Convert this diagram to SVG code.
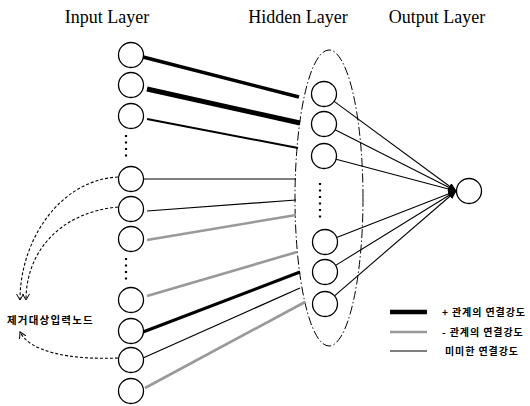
<svg xmlns="http://www.w3.org/2000/svg" width="530" height="406" viewBox="0 0 530 406">
<defs>
<marker id="ah" markerUnits="userSpaceOnUse" markerWidth="9" markerHeight="7" refX="8" refY="3.5" orient="auto">
<path d="M0,0 L9,3.5 L0,7 Z" fill="#000"/>
</marker>
<marker id="open" markerUnits="userSpaceOnUse" markerWidth="8" markerHeight="8" refX="6" refY="4" orient="auto">
<path d="M0,0.5 L6,4 L0,7.5" fill="none" stroke="#000" stroke-width="1"/>
</marker>
<style>
.node{fill:#fff;stroke:#000;stroke-width:1.3}
.title{font-family:"Liberation Serif","Times New Roman",serif;font-size:18px;fill:#000}
.kor{font-family:"Noto Sans CJK KR","Noto Sans",sans-serif;font-size:10px;font-weight:bold;fill:#000;letter-spacing:0.9px}
.lbl{font-size:10.5px;letter-spacing:1.2px}
.pos{stroke:#000;stroke-linecap:butt}
.neg{stroke:#999;stroke-width:2.6}
.weak{stroke:#000;stroke-width:1.2}
.out{stroke:#000;stroke-width:1.1;marker-end:url(#ah)}
.dash{fill:none;stroke:#000;stroke-width:1.1;stroke-dasharray:3 2;marker-end:url(#open)}
.dots{stroke:#000;stroke-width:2.2;stroke-dasharray:2 4.5}
</style>
</defs>
<rect width="530" height="406" fill="#fff"/>

<g id="titles">
<text class="title" x="107" y="23" text-anchor="middle">Input Layer</text>
<text class="title" x="298" y="23" text-anchor="middle">Hidden Layer</text>
<text class="title" x="437" y="23" text-anchor="middle">Output Layer</text>
</g>

<g id="hidden-layer-boundary">
<ellipse cx="329" cy="198" rx="34" ry="148" fill="none" stroke="#000" stroke-width="1" stroke-dasharray="9 2.5 1.5 2.5"/>
</g>

<g id="connectors">
<line class="pos" x1="143" y1="57" x2="299" y2="97" stroke-width="3.5"/>
<line class="pos" x1="147" y1="89" x2="300" y2="123" stroke-width="5"/>
<line class="pos" x1="147" y1="119" x2="298" y2="148" stroke-width="2"/>
<line class="weak" x1="143" y1="179" x2="296" y2="179"/>
<line class="weak" x1="147" y1="211" x2="296" y2="200" stroke-width="1.5"/>
<line class="neg" x1="147" y1="240" x2="296" y2="215"/>
<line class="neg" x1="147" y1="296" x2="297" y2="252"/>
<line class="pos" x1="143" y1="332" x2="300" y2="272" stroke-width="3"/>
<line class="weak" x1="143" y1="358" x2="300" y2="288" stroke-width="1.3"/>
<line class="neg" x1="145" y1="388" x2="305" y2="302"/>

<line class="out" x1="334.1" y1="101.4" x2="456" y2="191"/>
<line class="out" x1="335.1" y1="129.7" x2="456" y2="191"/>
<line class="out" x1="336.1" y1="159.2" x2="456" y2="191"/>
<line class="out" x1="336.6" y1="237.5" x2="456" y2="191"/>
<line class="out" x1="335.6" y1="265.4" x2="456" y2="191"/>
<line class="out" x1="334.5" y1="295.8" x2="456" y2="191"/>

<path class="dash" d="M118,177 C60,180 20,240 20,300"/>
<path class="dash" d="M118,207 C62,212 26,250 26,300"/>
<path class="dash" d="M118,358 C70,360 30,352 20,332"/>
</g>

<g id="input-dots">
<line class="dots" x1="126" y1="135" x2="126" y2="160"/>
<line class="dots" x1="126" y1="258" x2="126" y2="284"/>
</g>
<g id="hidden-dots">
<line class="dots" x1="320" y1="183" x2="320" y2="218" stroke-dasharray="2 4.2"/>
</g>

<g id="in1"><circle class="node" cx="131" cy="55" r="12.5"/></g>
<g id="in2"><circle class="node" cx="131" cy="85" r="12.5"/></g>
<g id="in3"><circle class="node" cx="131" cy="116" r="12.5"/></g>
<g id="in4"><circle class="node" cx="131" cy="179" r="12.5"/></g>
<g id="in5"><circle class="node" cx="131" cy="209" r="12.5"/></g>
<g id="in6"><circle class="node" cx="131" cy="239" r="12.5"/></g>
<g id="in7"><circle class="node" cx="131" cy="300" r="12.5"/></g>
<g id="in8"><circle class="node" cx="131" cy="331" r="12.5"/></g>
<g id="in9"><circle class="node" cx="131" cy="360" r="12.5"/></g>
<g id="in10"><circle class="node" cx="131" cy="391" r="12.5"/></g>

<g id="h1"><circle class="node" cx="324" cy="94" r="12.5"/></g>
<g id="h2"><circle class="node" cx="324" cy="124" r="12.5"/></g>
<g id="h3"><circle class="node" cx="324" cy="156" r="12.5"/></g>
<g id="h4"><circle class="node" cx="325" cy="242" r="12.5"/></g>
<g id="h5"><circle class="node" cx="325" cy="272" r="12.5"/></g>
<g id="h6"><circle class="node" cx="325" cy="304" r="12.5"/></g>

<g id="out1"><circle class="node" cx="469" cy="191" r="12.5"/></g>

<g id="removal-label">
<text class="kor lbl" x="7" y="324">제거대상입력노드</text>
</g>

<g id="legend">
<line x1="390" y1="312" x2="427" y2="312" stroke="#000" stroke-width="4.5"/>
<text class="kor" x="442" y="316">+ 관계의 연결강도</text>
<line x1="390" y1="332" x2="427" y2="332" class="neg"/>
<text class="kor" x="442" y="336">- 관계의 연결강도</text>
<line x1="390" y1="351" x2="427" y2="351" stroke="#000" stroke-width="1.2"/>
<text class="kor" x="445" y="355">미미한 연결강도</text>
</g>
</svg>
